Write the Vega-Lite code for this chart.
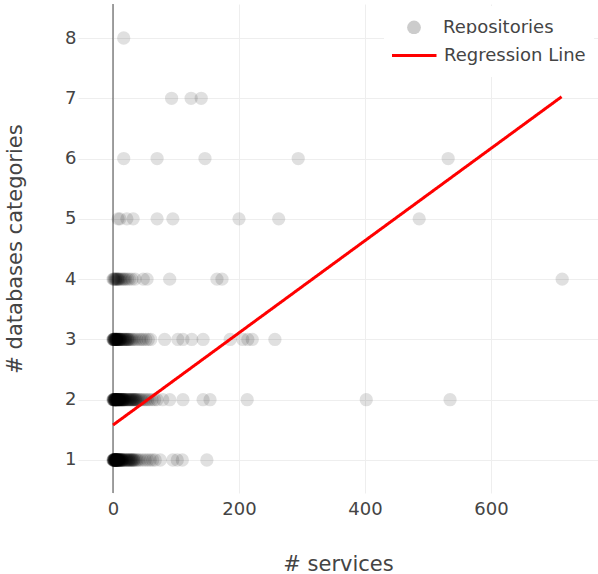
{
  "$schema": "https://vega.github.io/schema/vega-lite/v6.json",
  "width": 520,
  "height": 489,
  "autosize": {"type": "none"},
  "padding": {"left": 78, "top": 4, "right": 0, "bottom": 81},
  "background": "white",
  "config": {
    "view": {"stroke": null},
    "font": "DejaVu Sans",
    "axis": {
      "domain": false,
      "ticks": false,
      "grid": true,
      "gridColor": "#eeeeee",
      "gridWidth": 1,
      "labelFont": "DejaVu Sans",
      "labelFontSize": 18,
      "labelColor": "#444444",
      "titleFont": "DejaVu Sans",
      "titleFontSize": 21,
      "titleFontWeight": "normal",
      "titleColor": "#444444"
    },
    "legend": {
      "labelFont": "DejaVu Sans",
      "labelFontSize": 18,
      "labelColor": "#444444"
    }
  },
  "datasets": {
    "zero": [{"services": 0}],
    "fit": [{"services": 0, "fit": 1.58}, {"services": 712, "fit": 7.025}],
    "pts": [
      {"services":0,"dbs":1},{"services":0,"dbs":1},{"services":1,"dbs":1},{"services":1,"dbs":1},{"services":1,"dbs":1},{"services":1,"dbs":1},
      {"services":2,"dbs":1},{"services":2,"dbs":1},{"services":2,"dbs":1},{"services":2,"dbs":1},{"services":2,"dbs":1},
      {"services":3,"dbs":1},{"services":3,"dbs":1},{"services":3,"dbs":1},{"services":3,"dbs":1},{"services":3,"dbs":1},
      {"services":4,"dbs":1},{"services":4,"dbs":1},{"services":4,"dbs":1},{"services":4,"dbs":1},{"services":4,"dbs":1},
      {"services":5,"dbs":1},{"services":5,"dbs":1},{"services":5,"dbs":1},{"services":5,"dbs":1},{"services":5,"dbs":1},
      {"services":6,"dbs":1},{"services":6,"dbs":1},{"services":6,"dbs":1},{"services":6,"dbs":1},
      {"services":7,"dbs":1},{"services":7,"dbs":1},{"services":7,"dbs":1},{"services":7,"dbs":1},
      {"services":8,"dbs":1},{"services":8,"dbs":1},{"services":8,"dbs":1},
      {"services":9,"dbs":1},{"services":9,"dbs":1},{"services":9,"dbs":1},
      {"services":10,"dbs":1},{"services":10,"dbs":1},{"services":10,"dbs":1},
      {"services":11,"dbs":1},{"services":11,"dbs":1},{"services":12,"dbs":1},{"services":12,"dbs":1},
      {"services":13,"dbs":1},{"services":13,"dbs":1},{"services":14,"dbs":1},{"services":14,"dbs":1},
      {"services":15,"dbs":1},{"services":15,"dbs":1},{"services":16,"dbs":1},{"services":17,"dbs":1},
      {"services":18,"dbs":1},{"services":19,"dbs":1},{"services":20,"dbs":1},{"services":21,"dbs":1},
      {"services":22,"dbs":1},{"services":23,"dbs":1},{"services":24,"dbs":1},{"services":25,"dbs":1},
      {"services":26,"dbs":1},{"services":27,"dbs":1},{"services":28,"dbs":1},{"services":29,"dbs":1},
      {"services":30,"dbs":1},{"services":31,"dbs":1},{"services":32,"dbs":1},{"services":33,"dbs":1},
      {"services":34,"dbs":1},{"services":36,"dbs":1},{"services":38,"dbs":1},{"services":40,"dbs":1},
      {"services":43,"dbs":1},{"services":47,"dbs":1},{"services":51,"dbs":1},{"services":55,"dbs":1},
      {"services":59,"dbs":1},{"services":63,"dbs":1},{"services":67,"dbs":1},{"services":75,"dbs":1},
      {"services":95,"dbs":1},{"services":102,"dbs":1},{"services":110,"dbs":1},{"services":149,"dbs":1},

      {"services":0,"dbs":2},{"services":0,"dbs":2},{"services":1,"dbs":2},{"services":1,"dbs":2},{"services":1,"dbs":2},
      {"services":2,"dbs":2},{"services":2,"dbs":2},{"services":2,"dbs":2},{"services":2,"dbs":2},
      {"services":3,"dbs":2},{"services":3,"dbs":2},{"services":3,"dbs":2},{"services":3,"dbs":2},
      {"services":4,"dbs":2},{"services":4,"dbs":2},{"services":4,"dbs":2},{"services":4,"dbs":2},
      {"services":5,"dbs":2},{"services":5,"dbs":2},{"services":5,"dbs":2},{"services":5,"dbs":2},
      {"services":6,"dbs":2},{"services":6,"dbs":2},{"services":6,"dbs":2},
      {"services":7,"dbs":2},{"services":7,"dbs":2},{"services":7,"dbs":2},
      {"services":8,"dbs":2},{"services":8,"dbs":2},{"services":8,"dbs":2},
      {"services":9,"dbs":2},{"services":9,"dbs":2},{"services":9,"dbs":2},
      {"services":10,"dbs":2},{"services":10,"dbs":2},{"services":10,"dbs":2},
      {"services":11,"dbs":2},{"services":11,"dbs":2},{"services":12,"dbs":2},{"services":12,"dbs":2},
      {"services":13,"dbs":2},{"services":13,"dbs":2},{"services":14,"dbs":2},{"services":14,"dbs":2},
      {"services":15,"dbs":2},{"services":15,"dbs":2},{"services":16,"dbs":2},{"services":16,"dbs":2},
      {"services":17,"dbs":2},{"services":17,"dbs":2},{"services":18,"dbs":2},{"services":18,"dbs":2},
      {"services":19,"dbs":2},{"services":20,"dbs":2},{"services":21,"dbs":2},{"services":22,"dbs":2},
      {"services":23,"dbs":2},{"services":24,"dbs":2},{"services":25,"dbs":2},{"services":26,"dbs":2},
      {"services":27,"dbs":2},{"services":28,"dbs":2},{"services":29,"dbs":2},{"services":30,"dbs":2},
      {"services":31,"dbs":2},{"services":32,"dbs":2},{"services":33,"dbs":2},{"services":34,"dbs":2},
      {"services":35,"dbs":2},{"services":36,"dbs":2},{"services":37,"dbs":2},{"services":38,"dbs":2},
      {"services":40,"dbs":2},{"services":42,"dbs":2},{"services":44,"dbs":2},{"services":46,"dbs":2},
      {"services":49,"dbs":2},{"services":52,"dbs":2},{"services":55,"dbs":2},{"services":58,"dbs":2},
      {"services":62,"dbs":2},{"services":66,"dbs":2},{"services":70,"dbs":2},{"services":79,"dbs":2},
      {"services":90,"dbs":2},{"services":111,"dbs":2},{"services":143,"dbs":2},{"services":154,"dbs":2},
      {"services":213,"dbs":2},{"services":402,"dbs":2},{"services":535,"dbs":2},

      {"services":0,"dbs":3},{"services":0,"dbs":3},{"services":1,"dbs":3},{"services":1,"dbs":3},{"services":1,"dbs":3},
      {"services":2,"dbs":3},{"services":2,"dbs":3},{"services":2,"dbs":3},
      {"services":3,"dbs":3},{"services":3,"dbs":3},{"services":3,"dbs":3},
      {"services":4,"dbs":3},{"services":4,"dbs":3},{"services":4,"dbs":3},
      {"services":5,"dbs":3},{"services":5,"dbs":3},{"services":5,"dbs":3},
      {"services":6,"dbs":3},{"services":6,"dbs":3},{"services":6,"dbs":3},
      {"services":7,"dbs":3},{"services":7,"dbs":3},{"services":8,"dbs":3},{"services":8,"dbs":3},
      {"services":9,"dbs":3},{"services":9,"dbs":3},{"services":10,"dbs":3},{"services":10,"dbs":3},
      {"services":11,"dbs":3},{"services":11,"dbs":3},{"services":12,"dbs":3},{"services":12,"dbs":3},
      {"services":13,"dbs":3},{"services":14,"dbs":3},{"services":15,"dbs":3},{"services":16,"dbs":3},
      {"services":17,"dbs":3},{"services":18,"dbs":3},{"services":19,"dbs":3},{"services":20,"dbs":3},
      {"services":21,"dbs":3},{"services":22,"dbs":3},{"services":23,"dbs":3},{"services":24,"dbs":3},
      {"services":25,"dbs":3},{"services":26,"dbs":3},{"services":28,"dbs":3},{"services":30,"dbs":3},
      {"services":32,"dbs":3},{"services":35,"dbs":3},{"services":38,"dbs":3},{"services":42,"dbs":3},
      {"services":45,"dbs":3},{"services":48,"dbs":3},{"services":52,"dbs":3},{"services":56,"dbs":3},
      {"services":60,"dbs":3},{"services":82,"dbs":3},{"services":103,"dbs":3},{"services":111,"dbs":3},
      {"services":125,"dbs":3},{"services":143,"dbs":3},{"services":186,"dbs":3},{"services":206,"dbs":3},
      {"services":214,"dbs":3},{"services":221,"dbs":3},{"services":257,"dbs":3},

      {"services":0,"dbs":4},{"services":1,"dbs":4},{"services":2,"dbs":4},{"services":3,"dbs":4},
      {"services":4,"dbs":4},{"services":5,"dbs":4},{"services":6,"dbs":4},{"services":7,"dbs":4},
      {"services":8,"dbs":4},{"services":9,"dbs":4},{"services":10,"dbs":4},{"services":12,"dbs":4},
      {"services":14,"dbs":4},{"services":16,"dbs":4},{"services":18,"dbs":4},{"services":20,"dbs":4},
      {"services":23,"dbs":4},{"services":26,"dbs":4},{"services":30,"dbs":4},{"services":35,"dbs":4},
      {"services":48,"dbs":4},{"services":54,"dbs":4},{"services":90,"dbs":4},{"services":165,"dbs":4},
      {"services":173,"dbs":4},{"services":713,"dbs":4},

      {"services":8,"dbs":5},{"services":11,"dbs":5},{"services":22,"dbs":5},{"services":32,"dbs":5},
      {"services":70,"dbs":5},{"services":95,"dbs":5},{"services":200,"dbs":5},{"services":263,"dbs":5},
      {"services":486,"dbs":5},

      {"services":17,"dbs":6},{"services":70,"dbs":6},{"services":146,"dbs":6},{"services":294,"dbs":6},
      {"services":532,"dbs":6},

      {"services":93,"dbs":7},{"services":124,"dbs":7},{"services":140,"dbs":7},

      {"services":17,"dbs":8}
    ]
  },
  "layer": [
    {
      "data": {"name": "zero"},
      "mark": {"type": "rule", "color": "#444444", "strokeWidth": 1},
      "encoding": {
        "x": {"field": "services", "type": "quantitative",
              "scale": {"domain": [-55.56, 769.84], "nice": false, "zero": false}}
      }
    },
    {
      "data": {"name": "pts"},
      "mark": {"type": "circle", "opacity": 0.12, "size": 177},
      "encoding": {
        "x": {"field": "services", "type": "quantitative",
              "scale": {"domain": [-55.56, 769.84], "nice": false, "zero": false},
              "axis": {"title": "# services", "values": [0, 200, 400, 600], "labelPadding": 7, "titlePadding": 35, "labelFlush": false}},
        "y": {"field": "dbs", "type": "quantitative",
              "scale": {"domain": [0.4526, 8.564], "nice": false, "zero": false},
              "axis": {"title": "# databases categories", "values": [1, 2, 3, 4, 5, 6, 7, 8], "format": "d", "labelPadding": 2, "titlePadding": 39, "labelFlush": false}},
        "color": {
          "datum": "Repositories",
          "scale": {"domain": ["Repositories"], "range": ["#000000"]},
          "legend": {
            "title": null,
            "orient": "none",
            "legendX": 306,
            "legendY": 2,
            "fillColor": "white",
            "padding": 8,
            "symbolType": "circle",
            "symbolSize": 190,
            "symbolOpacity": 0.2,
            "symbolStrokeWidth": 0,
            "symbolOffset": 13,
            "labelOffset": 20,
            "clipHeight": 27
          }
        }
      }
    },
    {
      "data": {"name": "fit"},
      "mark": {"type": "line", "strokeWidth": 3, "color": "#ff0000"},
      "encoding": {
        "x": {"field": "services", "type": "quantitative",
              "scale": {"domain": [-55.56, 769.84], "nice": false, "zero": false}},
        "y": {"field": "fit", "type": "quantitative",
              "scale": {"domain": [0.4526, 8.564], "nice": false, "zero": false}},
        "strokeDash": {
          "datum": "Regression Line",
          "scale": {"domain": ["Regression Line"], "range": [[1, 0]]},
          "legend": {
            "title": null,
            "orient": "none",
            "legendX": 306,
            "legendY": 30,
            "fillColor": "white",
            "padding": 8,
            "symbolType": "stroke",
            "symbolSize": 2025,
            "symbolStrokeWidth": 3,
            "symbolStrokeColor": "#ff0000",
            "symbolOpacity": 1,
            "symbolOffset": -2,
            "labelOffset": 6,
            "clipHeight": 27
          }
        }
      }
    }
  ]
}
